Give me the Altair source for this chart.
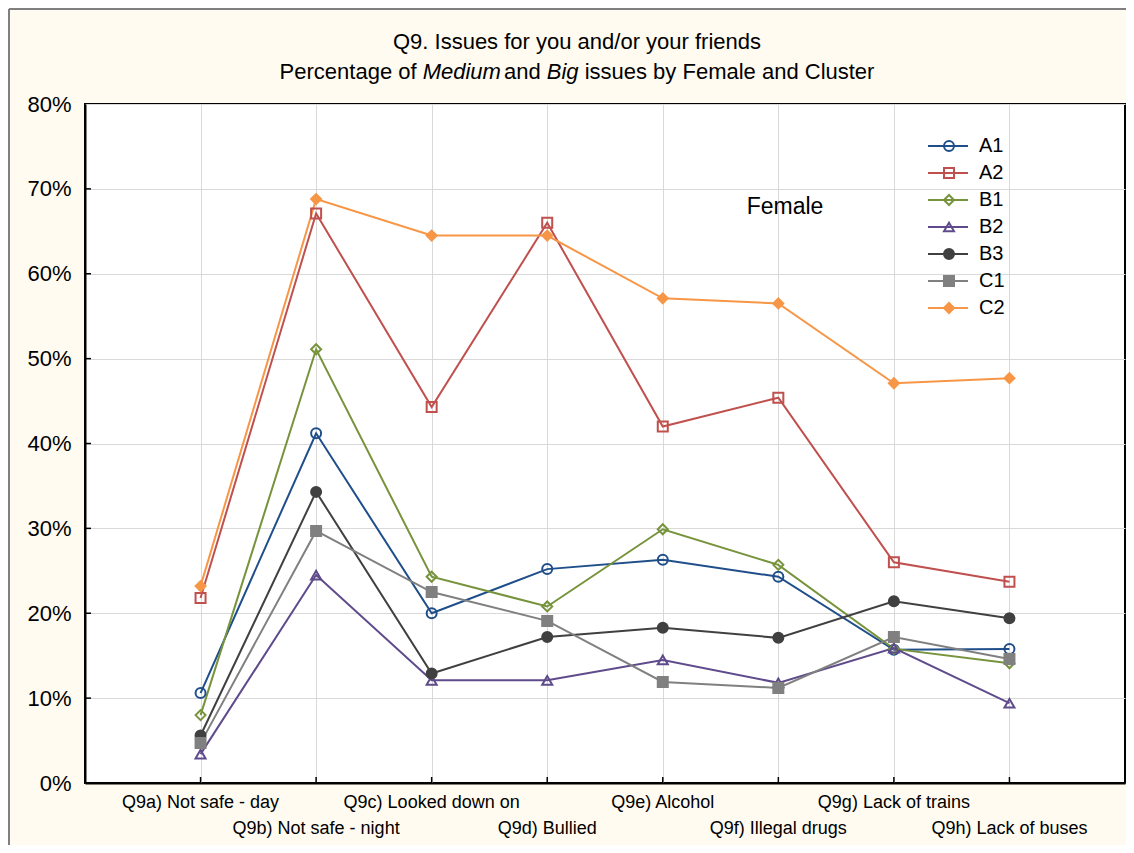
import altair as alt
import pandas as pd

categories = ["Q9a) Not safe - day", "Q9b) Not safe - night", "Q9c) Looked down on",
              "Q9d) Bullied", "Q9e) Alcohol", "Q9f) Illegal drugs",
              "Q9g) Lack of trains", "Q9h) Lack of buses"]
series_names = ["A1", "A2", "B1", "B2", "B3", "C1", "C2"]
a1 = [10.6, 41.2, 20.0, 25.2, 26.3, 24.3, 15.7, 15.8]
a2 = [21.8, 67.1, 44.3, 66.0, 42.0, 45.4, 26.0, 23.7]
b1 = [8.0, 51.1, 24.3, 20.8, 29.9, 25.7, 15.8, 14.1]
b2 = [3.4, 24.5, 12.1, 12.1, 14.5, 11.8, 15.9, 9.4]
b3 = [5.6, 34.3, 12.9, 17.2, 18.3, 17.1, 21.4, 19.4]
c1 = [4.7, 29.7, 22.5, 19.1, 11.9, 11.2, 17.2, 14.6]
c2 = [23.2, 68.8, 64.5, 64.5, 57.1, 56.5, 47.1, 47.7]
series_values = [a1, a2, b1, b2, b3, c1, c2]
colors = ["#1F4E8A", "#C0504D", "#77933C", "#5F4B8B", "#404040", "#808080", "#F79646"]
shapes = ["circle", "square", "diamond", "triangle-up", "circle", "square", "diamond"]
filled = [False, False, False, False, True, True, True]
y_ticks = [0, 10, 20, 30, 40, 50, 60, 70, 80]

FONT = "Liberation Sans"
W, H = 1040, 679

rows = []
for s, vals, col, fl in zip(series_names, series_values, colors, filled):
    for i, v in enumerate(vals):
        rows.append({"series": s, "xi": i + 1, "cat": categories[i], "value": v,
                     "fillc": col if fl else "transparent"})
df = pd.DataFrame(rows)

cat_df = pd.DataFrame({"cat": categories, "xi": list(range(1, 9))})
cat_df["ly"] = [699 if i % 2 == 0 else 725 for i in range(8)]

leg_df = pd.DataFrame({"series": series_names, "rank": list(range(7)),
                       "fillc": [c if f else "transparent" for c, f in zip(colors, filled)]})

xscale = alt.Scale(domain=[0, 9], nice=False, zero=False)
yscale = alt.Scale(domain=[0, 80], nice=False)
cscale = alt.Scale(domain=series_names, range=colors)
sscale = alt.Scale(domain=series_names, range=shapes)

x_enc = alt.X("xi:Q", scale=xscale,
              axis=alt.Axis(values=list(range(1, 9)), labels=False, ticks=False, title=None,
                            grid=True, gridColor="#D9D9D9", gridWidth=1,
                            domainColor="black", domainWidth=2))
y_enc = alt.Y("value:Q", scale=yscale,
              axis=alt.Axis(values=y_ticks, labelExpr="datum.value + '%'", ticks=False,
                            title=None, grid=True, gridColor="#D9D9D9", gridWidth=1,
                            domainColor="black", domainWidth=2, labelFont=FONT,
                            labelFontSize=22, labelColor="black", labelPadding=14))

lines = alt.Chart(df).mark_line(strokeWidth=2).encode(
    x=x_enc, y=y_enc,
    color=alt.Color("series:N", scale=cscale, legend=None),
    order=alt.Order("xi:Q"),
)
points = alt.Chart(df).mark_point(size=100, strokeWidth=2, opacity=1, fillOpacity=1).encode(
    x=alt.X("xi:Q", scale=xscale), y=alt.Y("value:Q", scale=yscale),
    stroke=alt.Stroke("series:N", scale=cscale, legend=None),
    fill=alt.Fill("fillc:N", scale=None),
    shape=alt.Shape("series:N", scale=sscale, legend=None),
)

# inward ticks
xticks = alt.Chart(cat_df).mark_rule(color="black", strokeWidth=1.5).encode(
    x=alt.X("xi:Q", scale=xscale), y=alt.value(H), y2=alt.value(H - 6))
ytick_df = pd.DataFrame({"value": y_ticks[1:-1]})
yticks = alt.Chart(ytick_df).mark_rule(color="black", strokeWidth=1.5).encode(
    y=alt.Y("value:Q", scale=yscale), x=alt.value(0), x2=alt.value(6))

# category labels (staggered)
xlabels = alt.Chart(cat_df).mark_text(font=FONT, fontSize=18, color="black",
                                      align="center", baseline="middle").encode(
    x=alt.X("xi:Q", scale=xscale), y=alt.Y("ly:Q", scale=None), text="cat:N")

# legend
leg_base = alt.Chart(leg_df).transform_calculate(py="42 + datum.rank * 27")
leg_lines = leg_base.mark_rule(strokeWidth=2).encode(
    x=alt.value(843), x2=alt.value(883), y=alt.Y("py:Q", scale=None),
    color=alt.Color("series:N", scale=cscale, legend=None))
leg_pts = leg_base.mark_point(size=100, strokeWidth=2, opacity=1, fillOpacity=1).encode(
    x=alt.value(864), y=alt.Y("py:Q", scale=None),
    stroke=alt.Stroke("series:N", scale=cscale, legend=None),
    fill=alt.Fill("fillc:N", scale=None),
    shape=alt.Shape("series:N", scale=sscale, legend=None))
leg_text = leg_base.mark_text(font=FONT, fontSize=20, color="black", align="left",
                              baseline="middle").encode(
    x=alt.value(894), y=alt.Y("py:Q", scale=None), text="series:N")

female = alt.Chart(pd.DataFrame({"t": ["Female"]})).mark_text(
    font=FONT, fontSize=23, color="black", align="center", baseline="middle").encode(
    x=alt.value(700), y=alt.value(103), text="t:N")

# title
title1 = alt.Chart(pd.DataFrame({"t": ["Q9. Issues for you and/or your friends"]})).mark_text(
    font=FONT, fontSize=22, color="black", align="center", baseline="middle").encode(
    x=alt.value(492), y=alt.value(-62), text="t:N")

arial_w = {" ": 278, "P": 667, "e": 556, "r": 333, "c": 500, "n": 556, "t": 278, "a": 556,
           "g": 556, "o": 556, "f": 278, "M": 833, "d": 556, "i": 222, "u": 556, "m": 833,
           "B": 667, "s": 500, "b": 556, "y": 500, "F": 611, "l": 222, "C": 722}
fs = 22
space_w = 278 * fs / 1000
# (text, style, gap after in px)
pieces = [("Percentage of", "normal", space_w), ("Medium", "italic", 3),
          ("and", "normal", space_w), ("Big", "italic", space_w),
          ("issues by Female and Cluster", "normal", 0)]
widths = [sum(arial_w.get(ch, 556) for ch in p) * fs / 1000 + g for p, _, g in pieces]
start = 492 - sum(widths) / 2
title2_layers = []
xpos = start
for (p, style, g), w in zip(pieces, widths):
    title2_layers.append(
        alt.Chart(pd.DataFrame({"t": [p]})).mark_text(
            font=FONT, fontSize=fs, fontStyle=style, color="black", align="left",
            baseline="middle").encode(x=alt.value(xpos), y=alt.value(-32), text="t:N"))
    xpos += w

# outer frame
one = pd.DataFrame({"d": [0]})
frame_col = "#7F7F7F"
frame_left = alt.Chart(one).mark_rule(color=frame_col, strokeWidth=2).encode(
    x=alt.value(-76), y=alt.value(-95), y2=alt.value(H + 80))
frame_top = alt.Chart(one).mark_rule(color=frame_col, strokeWidth=2).encode(
    x=alt.value(-76), x2=alt.value(W + 1), y=alt.value(-95))

chart = alt.layer(
    lines, points, xticks, yticks, xlabels, leg_lines, leg_pts, leg_text, female, title1,
    *title2_layers, frame_left, frame_top
).properties(
    width=W, height=H,
    padding={"left": 77, "top": 96, "right": 1, "bottom": 62},
    autosize=alt.AutoSizeParams(type="none"),
    background="#FFFBF0",
).configure_view(fill="white", stroke="black", strokeWidth=2)

chart.save("out.html", embed_options={"renderer": "svg", "actions": False})
